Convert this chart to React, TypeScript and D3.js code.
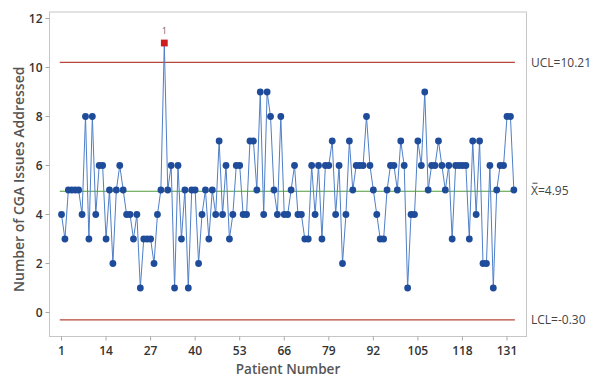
import React from "react";
import * as d3 from "d3";

// values per patient (133 patients)
const values = [
  4, 3, 5, 5, 5, 5, 4, 8, 3, 8,
  4, 6, 6, 3, 5, 2, 5, 6, 5, 4,
  4, 3, 4, 1, 3, 3, 3, 2, 4, 5,
  11, 5, 6, 1, 6, 3, 5, 1, 5, 5,
  2, 4, 5, 3, 5, 4, 7, 4, 6, 3,
  4, 6, 6, 4, 4, 7, 7, 5, 9, 4,
  9, 8, 5, 4, 8, 4, 4, 5, 6, 4,
  4, 3, 3, 6, 4, 6, 3, 6, 6, 7,
  4, 6, 2, 4, 7, 5, 6, 6, 6, 8,
  6, 5, 4, 3, 3, 5, 6, 6, 5, 7,
  6, 1, 4, 4, 7, 6, 9, 5, 6, 6,
  7, 6, 5, 6, 3, 6, 6, 6, 6, 3,
  7, 4, 7, 2, 2, 6, 1, 5, 6, 6,
  8, 8, 5,
];
const patients = values.map((_, i) => i + 1);

const xTicks = [1, 14, 27, 40, 53, 66, 79, 92, 105, 118, 131];
const yTicks = [0, 2, 4, 6, 8, 10, 12];

const UCL = 10.21;
const MEAN = 4.95;
const LCL = -0.3;

const W = 597;
const H = 378;
const frame = { left: 49.5, right: 526.5, top: 12, bottom: 336.5 };

const font = "'Open Sans', 'Noto Sans', sans-serif";

export default function App() {
  const x = d3.scaleLinear().domain([1, 131]).range([61.5, 507]);
  const y = d3.scaleLinear().domain([0, 12]).range([312.5, 18.5]);

  const line = d3
    .line<number>()
    .x((_, i) => x(patients[i]))
    .y((d) => y(d));

  const x0 = x(0.5);
  const x1 = x(values.length + 0.3);

  const limits = [
    { v: UCL, color: "#b8473a", label: `UCL=${UCL.toFixed(2)}` },
    { v: MEAN, color: "#4f9a3c", label: `X=${MEAN.toFixed(2)}` },
    { v: LCL, color: "#b8473a", label: `LCL=${LCL.toFixed(2)}` },
  ];

  return (
    <svg
      width={W}
      height={H}
      style={{ position: "absolute", left: 0, top: 0, background: "#fff" }}
      fontFamily={font}
    >
      <rect
        x={frame.left}
        y={frame.top}
        width={frame.right - frame.left}
        height={frame.bottom - frame.top}
        fill="none"
        stroke="#c6c6c6"
        strokeWidth={1}
      />

      {/* y axis */}
      {yTicks.map((t) => (
        <g key={"y" + t}>
          <line x1={frame.left - 4} x2={frame.left} y1={y(t)} y2={y(t)} stroke="#a8a8a8" />
          <text x={frame.left - 7} y={y(t)} dy="0.35em" textAnchor="end" fontSize={12} fontWeight={600} fill="#333">
            {t}
          </text>
        </g>
      ))}
      {/* x axis */}
      {xTicks.map((t) => (
        <g key={"x" + t}>
          <line x1={x(t)} x2={x(t)} y1={frame.bottom} y2={frame.bottom + 4} stroke="#a8a8a8" />
          <text x={x(t)} y={350.5} dy="0.35em" textAnchor="middle" fontSize={12} fontWeight={600} fill="#333">
            {t}
          </text>
        </g>
      ))}

      <text x={288} y={369.5} dy="0.35em" textAnchor="middle" fontSize={13.5} fontWeight={600} fill="#555">
        Patient Number
      </text>
      <text
        transform={`translate(19,${(frame.top + frame.bottom) / 2 + 5}) rotate(-90)`}
        dy="0.35em"
        textAnchor="middle"
        fontSize={14}
        fontWeight={600}
        fill="#555"
      >
        Number of CGA Issues Addressed
      </text>

      {/* control limits */}
      {limits.map((l) => (
        <g key={l.label}>
          <line x1={x0} x2={x1} y1={y(l.v)} y2={y(l.v)} stroke={l.color} strokeWidth={1.1} />
          <text x={531} y={y(l.v)} dy="0.35em" fontSize={12} fill="#444">
            {l.label}
          </text>
        </g>
      ))}
      <line x1={532.5} x2={537.5} y1={y(MEAN) - 8} y2={y(MEAN) - 8} stroke="#444" strokeWidth={1} />

      {/* data */}
      <path d={line(values) ?? ""} fill="none" stroke="#4f7fc8" strokeWidth={1} />
      {values.map((v, i) =>
        v > UCL ? (
          <g key={i}>
            <rect x={x(patients[i]) - 3.4} y={y(v) - 3.4} width={6.8} height={6.8} fill="#d01c1c" />
            <text x={x(patients[i])} y={y(v) - 9} textAnchor="middle" fontSize={9} fill="#666">
              1
            </text>
          </g>
        ) : (
          <circle key={i} cx={x(patients[i])} cy={y(v)} r={3.4} fill="#1f4c9a" />
        )
      )}
    </svg>
  );
}
